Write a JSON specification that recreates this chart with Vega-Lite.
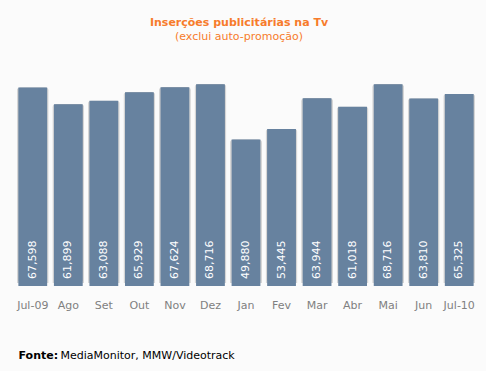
{
  "$schema": "https://vega.github.io/schema/vega-lite/v6.json",
  "width": 462,
  "height": 235,
  "autosize": {"type": "none"},
  "padding": {"left": 15, "top": 51, "right": 9, "bottom": 85},
  "background": "#fbfbfb",
  "title": {
    "text": "Inserções publicitárias na Tv",
    "subtitle": "(exclui auto-promoção)",
    "color": "#f77b2b",
    "subtitleColor": "#f77b2b",
    "font": "DejaVu Sans",
    "subtitleFont": "DejaVu Sans",
    "fontSize": 11,
    "subtitleFontSize": 11,
    "fontWeight": "bold",
    "subtitlePadding": 3,
    "anchor": "middle",
    "dx": -7,
    "offset": 9
  },
  "data": {
    "values": [
      {"mes": "Jul-09", "v": 67598},
      {"mes": "Ago", "v": 61899},
      {"mes": "Set", "v": 63088},
      {"mes": "Out", "v": 65929},
      {"mes": "Nov", "v": 67624},
      {"mes": "Dez", "v": 68716},
      {"mes": "Jan", "v": 49880},
      {"mes": "Fev", "v": 53445},
      {"mes": "Mar", "v": 63944},
      {"mes": "Abr", "v": 61018},
      {"mes": "Mai", "v": 68716},
      {"mes": "Jun", "v": 63810},
      {"mes": "Jul-10", "v": 65325}
    ]
  },
  "encoding": {
    "x": {
      "field": "mes",
      "type": "nominal",
      "sort": null,
      "bandPosition": 0.5,
      "scale": {"paddingInner": 0.1, "paddingOuter": 0.05},
      "axis": {
        "labelAngle": 0,
        "labelFont": "DejaVu Sans",
        "labelFontSize": 11,
        "labelColor": "#808080",
        "labelPadding": 13,
        "ticks": false,
        "domain": false,
        "title": "Fonte:",
        "titleFont": "DejaVu Sans",
        "titleFontSize": 11,
        "titleFontWeight": "bold",
        "titleColor": "#000000",
        "titleX": 3,
        "titleY": 72,
        "titleAlign": "left",
        "titleBaseline": "alphabetic"
      }
    }
  },
  "layer": [
    {
      "mark": {"type": "bar", "color": "#d6d6d6", "width": {"band": 1.0}, "yOffset": -3, "cornerRadius": 3},
      "encoding": {
        "y": {
          "field": "v",
          "type": "quantitative",
          "scale": {"domain": [0, 80000], "nice": false},
          "axis": {
            "labels": false,
            "ticks": false,
            "domain": false,
            "grid": false,
            "title": "MediaMonitor, MMW/Videotrack",
            "titleAngle": 0,
            "titleFont": "DejaVu Sans",
            "titleFontSize": 11,
            "titleFontWeight": "normal",
            "titleColor": "#000000",
            "titleX": 45,
            "titleY": 307,
            "titleAlign": "left",
            "titleBaseline": "alphabetic"
          }
        }
      }
    },
    {
      "mark": {"type": "bar", "color": "#9c9c9c", "width": {"band": 0.9}, "yOffset": -5, "cornerRadius": 2},
      "encoding": {"y": {"field": "v", "type": "quantitative"}}
    },
    {
      "mark": {"type": "bar", "color": "#67829f", "width": {"band": 0.9}},
      "encoding": {"y": {"field": "v", "type": "quantitative"}}
    },
    {
      "mark": {"type": "text", "angle": 270, "align": "left", "baseline": "middle", "color": "#ffffff", "font": "DejaVu Sans", "fontSize": 11, "dx": 7},
      "encoding": {
        "y": {"datum": 0},
        "text": {"field": "v", "type": "quantitative", "format": ","}
      }
    }
  ],
  "config": {"view": {"stroke": null}}
}
